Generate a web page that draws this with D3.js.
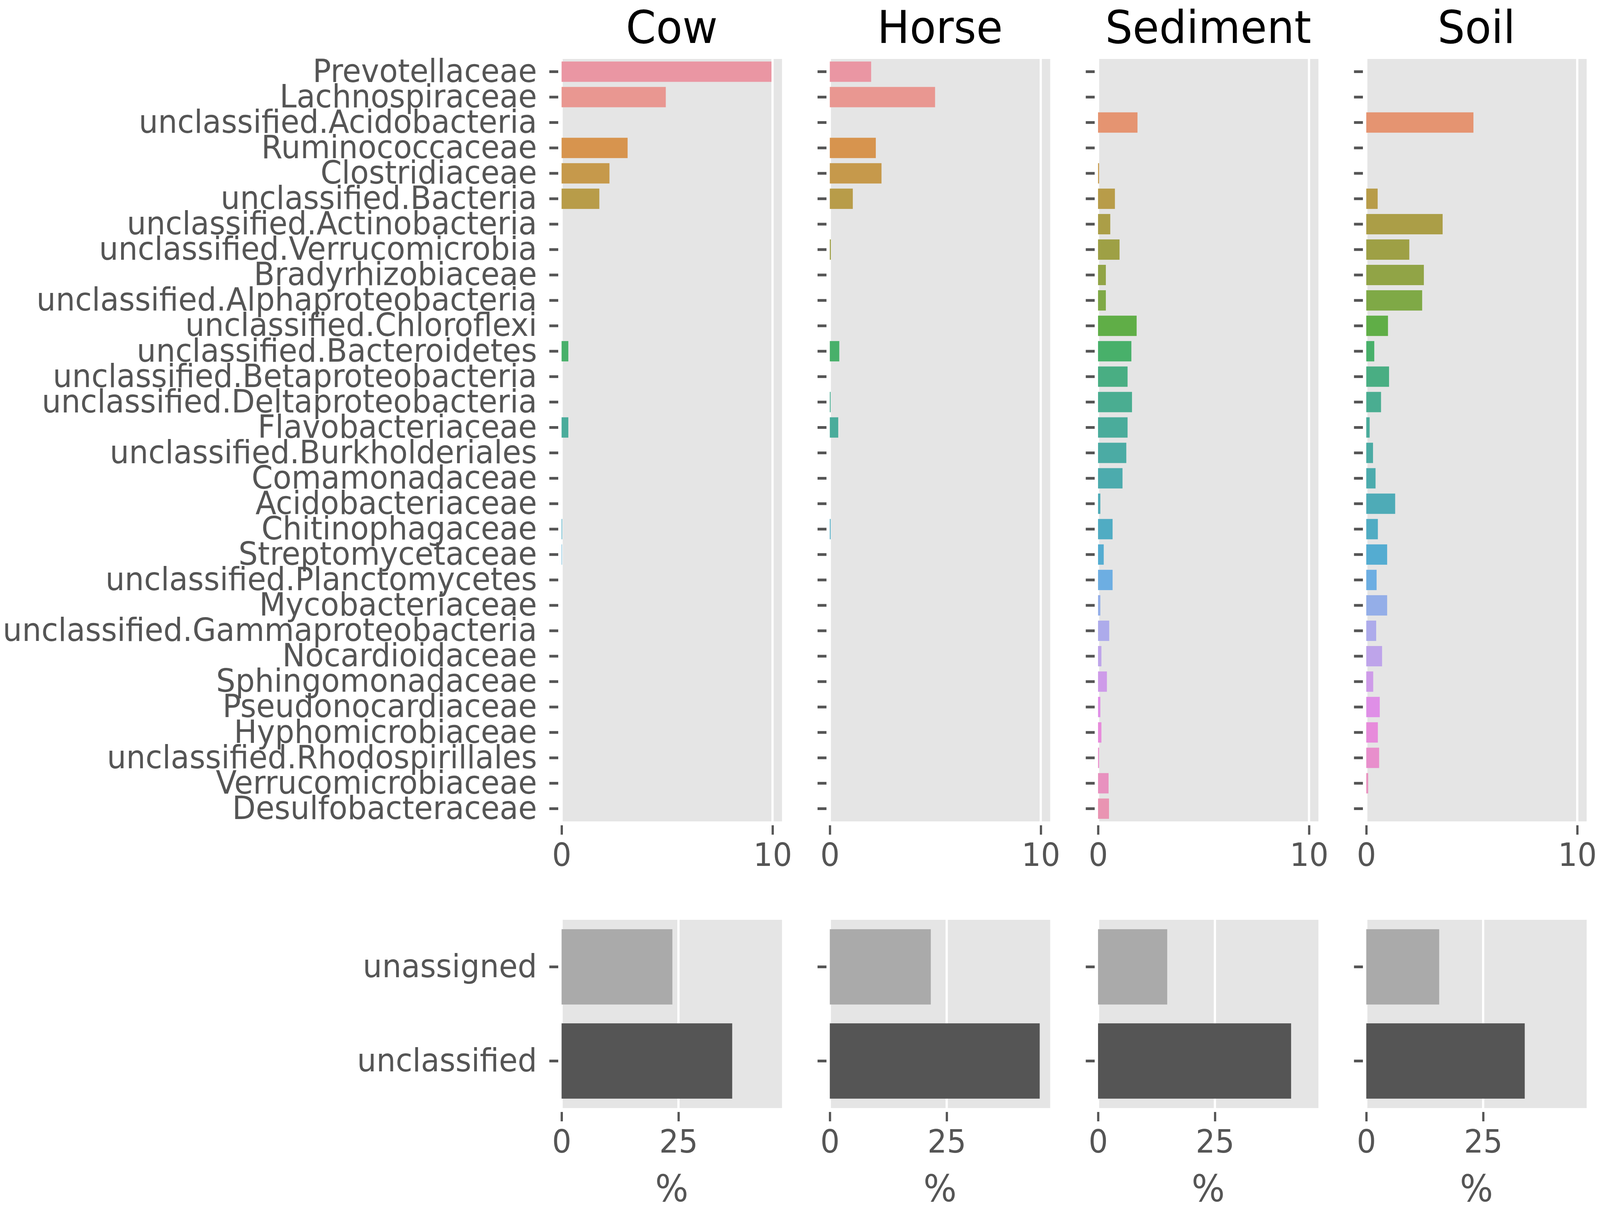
<!DOCTYPE html>
<html lang="en">
<head>
    <meta charset="UTF-8">
    <title>Family abundance by sample</title>
    <script src="https://d3js.org/d3.v7.min.js"></script>
    <style>
        html, body {
            margin: 0;
            padding: 0;
            overflow: hidden;
            background-color: #ffffff;
            font-family: "DejaVu Sans", sans-serif;
        }
        svg {
            display: block;
            width: 100vw;
            height: 100vh;
        }
        .tick-label {
            fill: #555555;
            font-size: 82px;
        }
        .title {
            fill: #000000;
            font-size: 116px;
            text-anchor: middle;
        }
    </style>
</head>
<body>
    <svg id="chart" viewBox="0 0 4305 3098" preserveAspectRatio="none"></svg>
    <script>
        // data (% of reads)
        const samples = ["Cow", "Horse", "Sediment", "Soil"];

        const families = [
            "Prevotellaceae", "Lachnospiraceae", "unclassified.Acidobacteria", "Ruminococcaceae",
            "Clostridiaceae", "unclassified.Bacteria", "unclassified.Actinobacteria",
            "unclassified.Verrucomicrobia", "Bradyrhizobiaceae", "unclassified.Alphaproteobacteria",
            "unclassified.Chloroflexi", "unclassified.Bacteroidetes", "unclassified.Betaproteobacteria",
            "unclassified.Deltaproteobacteria", "Flavobacteriaceae", "unclassified.Burkholderiales",
            "Comamonadaceae", "Acidobacteriaceae", "Chitinophagaceae", "Streptomycetaceae",
            "unclassified.Planctomycetes", "Mycobacteriaceae", "unclassified.Gammaproteobacteria",
            "Nocardioidaceae", "Sphingomonadaceae", "Pseudonocardiaceae", "Hyphomicrobiaceae",
            "unclassified.Rhodospirillales", "Verrucomicrobiaceae", "Desulfobacteraceae"
        ];

        const cow = [9.95, 4.94, 0, 3.13, 2.27, 1.79, 0, 0, 0, 0, 0, 0.32, 0, 0, 0.32,
                     0, 0, 0, 0.03, 0.02, 0, 0, 0, 0, 0, 0, 0, 0, 0, 0];
        const horse = [1.96, 4.99, 0, 2.18, 2.45, 1.09, 0, 0.05, 0, 0, 0, 0.45, 0, 0.04, 0.40,
                       0, 0, 0, 0.04, 0, 0, 0, 0, 0, 0, 0, 0, 0, 0, 0];
        const sediment = [0, 0, 1.87, 0, 0.05, 0.80, 0.58, 1.02, 0.37, 0.37, 1.83, 1.58, 1.40, 1.61, 1.40,
                          1.34, 1.16, 0.11, 0.69, 0.27, 0.69, 0.11, 0.53, 0.16, 0.42, 0.11, 0.16, 0.05, 0.50, 0.52];
        const soil = [0, 0, 5.08, 0, 0, 0.54, 3.62, 2.04, 2.73, 2.65, 1.03, 0.38, 1.08, 0.70, 0.16,
                      0.32, 0.44, 1.37, 0.55, 0.99, 0.49, 0.99, 0.47, 0.75, 0.33, 0.64, 0.55, 0.61, 0.09, 0];

        const otherLabels = ["unassigned", "unclassified"];
        const unassigned = [23.7, 21.6, 14.8, 15.6];
        const unclassified = [36.5, 44.9, 41.3, 33.9];

        const topTicks = [0, 10];
        const bottomTicks = [0, 25];

        const familyValues = [cow, horse, sediment, soil];

        // layout
        const panelLeft = 1511, panelStep = 721.7, panelW = 593;
        const topY0 = 151, topY1 = 2103;
        const botY0 = 2355, botY1 = 2837;
        const bg = "#e5e5e5";

        // seaborn-like husl palette, then desaturated 0.75 like barplot does
        const M = [[3.240454162114103, -1.537138512797715, -0.49853140955601],
                   [-0.96926603050518, 1.876010845446694, 0.041556017530349],
                   [0.055643430959114, -0.20402591351675, 1.057225188223179]];
        const refU = 0.19784, refV = 0.46834, kappa = 903.2963;

        function maxChroma(L, H) {
            const hrad = H * Math.PI / 180;
            const sinH = Math.sin(hrad), cosH = Math.cos(hrad);
            const sub1 = Math.pow(L + 16, 3) / 1560896;
            const sub2 = sub1 > 0.008856 ? sub1 : L / 903.3;
            let result = Infinity;
            for (const [m1, m2, m3] of M) {
                const top = (0.99915 * m1 + 1.05122 * m2 + 1.14460 * m3) * sub2;
                const rbottom = 0.86330 * m3 - 0.17266 * m2;
                const lbottom = 0.12949 * m3 - 0.38848 * m1;
                const bottom = (rbottom * sinH + lbottom * cosH) * sub2;
                for (const t of [0, 1]) {
                    const C = L * (top - 1.05122 * t) / (bottom + 0.17266 * sinH * t);
                    if (C > 0 && C < result) result = C;
                }
            }
            return result;
        }

        function huslToRgb(H, S, L) {
            const C = maxChroma(L, H) / 100 * S;
            const hrad = H * Math.PI / 180;
            const U = Math.cos(hrad) * C, V = Math.sin(hrad) * C;
            const Y = L > 8 ? Math.pow((L + 16) / 116, 3) : L / kappa;
            const varU = U / (13 * L) + refU;
            const varV = V / (13 * L) + refV;
            const X = -(9 * Y * varU) / ((varU - 4) * varV - varU * varV);
            const Z = (9 * Y - 15 * varV * Y - varV * X) / (3 * varV);
            return M.map(r => {
                const c = r[0] * X + r[1] * Y + r[2] * Z;
                const v = c <= 0.0031308 ? 12.92 * c : 1.055 * Math.pow(c, 1 / 2.4) - 0.055;
                return Math.max(0, Math.min(1, v));
            });
        }

        const palette = families.map((f, i) => {
            const h = ((i / families.length + 0.01) % 1) * 359;
            const [r, g, b] = huslToRgb(h, 0.9 * 99, 0.7 * 99);
            const c = d3.hsl(d3.rgb(r * 255, g * 255, b * 255));
            c.s *= 0.75;
            return c.formatHex();
        });
        const otherColors = ["#aaaaaa", "#555555"];

        const svg = d3.select("#chart");

        const topMax = d3.max(familyValues, v => d3.max(v)) * 1.05;
        const botMax = d3.max(unassigned.concat(unclassified)) * 1.05;

        const yTop = d3.scaleBand().domain(families).range([topY0, topY1])
            .paddingInner(0.2).paddingOuter(0.1);
        const yBot = d3.scaleBand().domain(otherLabels).range([botY0, botY1])
            .paddingInner(0.2).paddingOuter(0.1);

        function drawPanel(g, x, y, y0, y1, ticks, rows, colors, showLabels) {
            const [left, right] = x.range();
            g.append("rect")
                .attr("x", left).attr("y", y0)
                .attr("width", right - left).attr("height", y1 - y0)
                .attr("fill", bg);

            // vertical grid
            g.selectAll("line.grid")
                .data(ticks)
                .enter().append("line")
                .attr("class", "grid")
                .attr("x1", d => x(d)).attr("x2", d => x(d))
                .attr("y1", y0).attr("y2", y1)
                .attr("stroke", "#ffffff")
                .attr("stroke-width", 6);

            g.selectAll("rect.bar")
                .data(rows)
                .enter().append("rect")
                .attr("class", "bar")
                .attr("x", x(0))
                .attr("y", d => y(d.name))
                .attr("width", d => x(d.value) - x(0))
                .attr("height", y.bandwidth())
                .attr("fill", (d, i) => colors[i]);

            // x axis: ticks below the panel
            const xAxis = d3.axisBottom(x).tickValues(ticks).tickSize(24).tickPadding(22);
            const ax = g.append("g")
                .attr("transform", `translate(0, ${y1 + 10})`)
                .call(xAxis);
            ax.select(".domain").remove();
            ax.selectAll(".tick line").attr("stroke", "#555555").attr("stroke-width", 6);
            ax.selectAll(".tick text")
                .attr("class", "tick-label")
                .attr("fill", "#555555")
                .attr("font-family", "DejaVu Sans")
                .style("font-size", "82px");

            // y axis: short ticks left of the panel
            const yAxis = d3.axisLeft(y).tickSize(24).tickPadding(33)
                .tickFormat(showLabels ? (d => d) : "");
            const ay = g.append("g")
                .attr("transform", `translate(${left - 9}, 0)`)
                .call(yAxis);
            ay.select(".domain").remove();
            ay.selectAll(".tick line").attr("stroke", "#555555").attr("stroke-width", 7);
            ay.selectAll(".tick text")
                .attr("class", "tick-label")
                .attr("fill", "#555555")
                .attr("font-family", "DejaVu Sans")
                .style("font-size", "82px");
        }

        samples.forEach((s, k) => {
            const left = panelLeft + k * panelStep;
            const gTop = svg.append("g");
            const gBot = svg.append("g");

            const xTop = d3.scaleLinear().domain([0, topMax]).range([left, left + panelW]);
            const xBot = d3.scaleLinear().domain([0, botMax]).range([left, left + panelW]);

            const topRows = families.map((f, i) => ({ name: f, value: familyValues[k][i] }));
            const botRows = [
                { name: otherLabels[0], value: unassigned[k] },
                { name: otherLabels[1], value: unclassified[k] }
            ];

            drawPanel(gTop, xTop, yTop, topY0, topY1, topTicks, topRows, palette, k === 0);
            drawPanel(gBot, xBot, yBot, botY0, botY1, bottomTicks, botRows, otherColors, k === 0);

            gTop.append("text")
                .attr("class", "title")
                .attr("x", left + panelW / 2)
                .attr("y", 110)
                .text(s);

            gBot.append("text")
                .attr("x", left + panelW / 2)
                .attr("y", 3076)
                .attr("text-anchor", "middle")
                .attr("fill", "#555555")
                .style("font-size", "94px")
                .text("%");
        });
    </script>
</body>
</html>
